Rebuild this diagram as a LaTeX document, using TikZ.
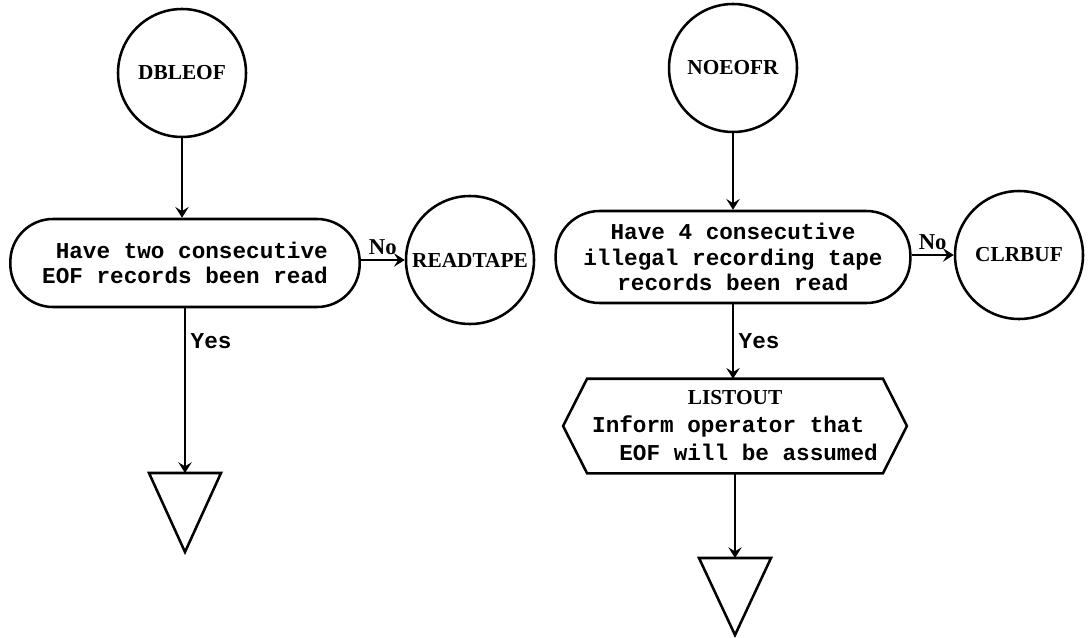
\documentclass[tikz,border=0pt]{standalone}
\usepackage{fontspec}
\setmainfont{Liberation Serif}
\setmonofont{Liberation Mono}
\usetikzlibrary{arrows.meta}

\begin{document}
\begin{tikzpicture}[x=0.75pt,y=-0.75pt,line width=1.9pt,
	conn/.style={draw,circle,minimum size=96pt,inner sep=0pt,font=\rmfamily\bfseries\fontsize{16}{18}\selectfont},
	ask/.style={draw,rectangle,rounded corners=32pt,minimum height=66pt,inner sep=2pt,font=\ttfamily\bfseries\fontsize{17}{19}\selectfont},
	io/.style={rectangle,minimum width=256pt,minimum height=69pt,inner sep=0pt,align=center,font=\ttfamily\bfseries\fontsize{17}{21}\selectfont},
	flow/.style={-{Stealth[length=8pt,width=10pt,inset=3pt]}},
	no/.style={font=\rmfamily\bfseries\fontsize{17}{19}\selectfont},
	yes/.style={font=\ttfamily\bfseries\fontsize{17}{19}\selectfont}]
	\useasboundingbox (0,0) rectangle (1091,638);

	% left chart
	\node[conn] (dbleof) at (182,73) {DBLEOF};
	\node[ask,minimum width=262pt,align=left] (twoeof) at (185,263) {\hphantom{x}Have two consecutive\\EOF records been read};
	\node[conn] (readtape) at (470,260) {READTAPE};
	\coordinate (stop1) at (185,473);
	\draw (149,473) -- (221,473) -- (185,552) -- cycle;

	\draw[flow] (dbleof.south) -- (dbleof.south |- twoeof.north);
	\draw[flow] (twoeof.east |- readtape) -- node[no,above]{No} (readtape.west);
	\draw[flow] (twoeof.south) -- node[yes,right,pos=0.2]{Yes} (stop1);

	% right chart
	\node[conn] (noeofr) at (733,68) {NOEOFR};
	\node[ask,minimum width=266pt,minimum height=69pt,rounded corners=33pt,align=center] (fourbad) at (733,257)
		{Have 4 consecutive\\illegal recording tape\\records been read};
	\node[conn] (clrbuf) at (1019,255) {CLRBUF};
	\node[io] (listout) at (735,426) {{\rmfamily\fontsize{16}{21}\selectfont LISTOUT}\\Inform operator that\hphantom{x}\\\hphantom{xx}EOF will be assumed};
	\draw (listout.west) -- ([xshift=18pt]listout.north west) -- ([xshift=-18pt]listout.north east)
		-- (listout.east) -- ([xshift=-18pt]listout.south east) -- ([xshift=18pt]listout.south west) -- cycle;
	\coordinate (stop2) at (735,558);
	\draw (699,558) -- (771,558) -- (735,635) -- cycle;

	\draw[flow] (noeofr.south) -- (noeofr.south |- fourbad.north);
	\draw[flow] (fourbad.east |- clrbuf) -- node[no,above]{No} (clrbuf.west);
	\draw[flow] (fourbad.south) -- node[yes,right]{Yes} (fourbad.south |- listout.north);
	\draw[flow] (listout.south) -- (stop2);
\end{tikzpicture}
\end{document}
